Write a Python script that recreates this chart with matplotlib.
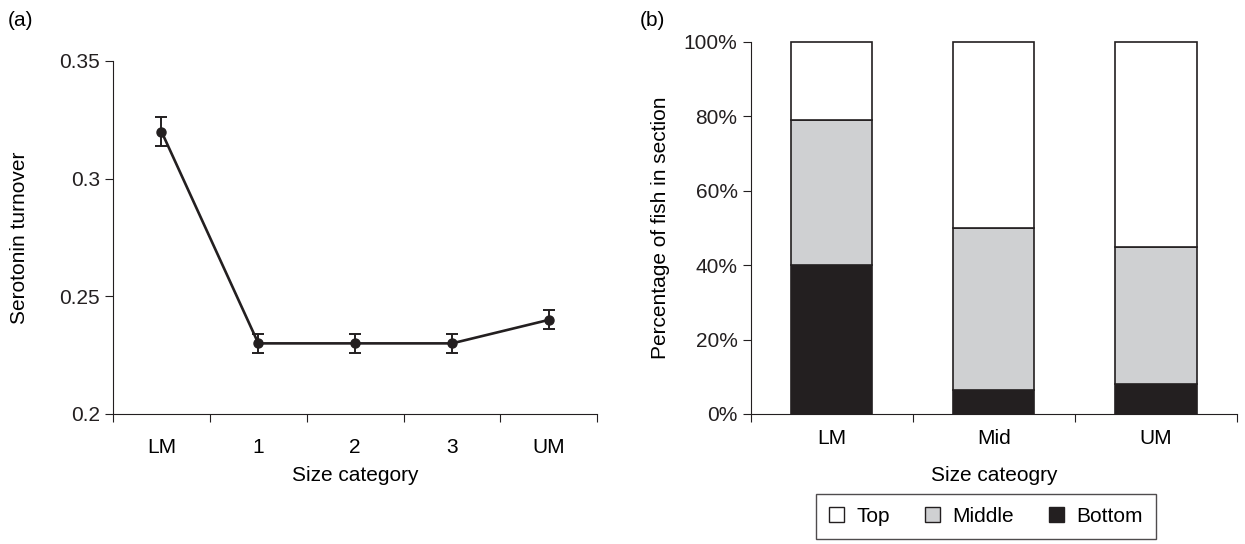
import matplotlib.pyplot as plt
from matplotlib.patches import Patch
from matplotlib.ticker import FixedLocator, PercentFormatter

plt.rcParams["font.family"] = ["Liberation Sans", "DejaVu Sans"]
plt.rcParams["font.size"] = 15

# =========== DATA ===========
size_categories = ["LM", "1", "2", "3", "UM"]
turnover = [0.32, 0.23, 0.23, 0.23, 0.24]
turnover_err = [0.006, 0.004, 0.004, 0.004, 0.004]

groups = ["LM", "Mid", "UM"]
bottom_pct = [40, 6.5, 8]
middle_pct = [39, 43.5, 37]
top_pct = [21, 50, 55]

ink = "#231f20"
grey = "#cfd0d2"

fig = plt.figure(figsize=(12.45, 5.44), dpi=100)

# =========== PANEL (a) ===========
ax1 = fig.add_axes([0.0908, 0.239, 0.389, 0.649])
xa = [i + 0.5 for i in range(len(size_categories))]
ax1.errorbar(xa, turnover, yerr=turnover_err, color=ink, lw=1.9, marker="o",
             ms=6.5, capsize=4, capthick=1.4, elinewidth=1.4)
ax1.set_xlim(0, len(size_categories))
ax1.set_ylim(0.2, 0.35)
ax1.set_yticks([0.2, 0.25, 0.3, 0.35])
ax1.set_yticklabels(["0.2", "0.25", "0.3", "0.35"])
ax1.xaxis.set_major_locator(FixedLocator(range(len(size_categories) + 1)))
ax1.xaxis.set_major_formatter(plt.NullFormatter())
ax1.xaxis.set_minor_locator(FixedLocator(xa))
ax1.set_xticklabels(size_categories, minor=True)
ax1.tick_params(axis="x", which="minor", length=0, pad=17)
ax1.set_xlabel("Size category", labelpad=7)
ax1.set_ylabel("Serotonin turnover", labelpad=22)

# =========== PANEL (b) ===========
ax2 = fig.add_axes([0.603, 0.239, 0.3906, 0.684])
xb = [i + 0.5 for i in range(len(groups))]
mid_base = bottom_pct
top_base = [b + m for b, m in zip(bottom_pct, middle_pct)]
ax2.bar(xb, bottom_pct, width=0.5, color=ink, edgecolor=ink, lw=1.2)
ax2.bar(xb, middle_pct, width=0.5, bottom=mid_base, color=grey, edgecolor=ink, lw=1.2)
ax2.bar(xb, top_pct, width=0.5, bottom=top_base, color="white", edgecolor=ink,
        lw=1.2, clip_on=False)
ax2.set_xlim(0, len(groups))
ax2.set_ylim(0, 100)
ax2.set_yticks(range(0, 101, 20))
ax2.yaxis.set_major_formatter(PercentFormatter(decimals=0))
ax2.xaxis.set_major_locator(FixedLocator(range(len(groups) + 1)))
ax2.xaxis.set_major_formatter(plt.NullFormatter())
ax2.xaxis.set_minor_locator(FixedLocator(xb))
ax2.set_xticklabels(groups, minor=True)
ax2.tick_params(axis="x", which="minor", length=0, pad=11)
ax2.set_xlabel("Size cateogry", labelpad=13)
ax2.set_ylabel("Percentage of fish in section", labelpad=10)

handles = [
    Patch(facecolor="white", edgecolor=ink, label="Top"),
    Patch(facecolor=grey, edgecolor=ink, label="Middle"),
    Patch(facecolor=ink, edgecolor=ink, label="Bottom"),
]
leg = fig.legend(handles=handles, loc="upper center", ncol=3,
                 bbox_to_anchor=(986 / 1245, 1 - 494 / 544), borderaxespad=0,
                 fancybox=False, edgecolor=ink, handlelength=0.7,
                 handleheight=0.7, columnspacing=1.7, handletextpad=0.6,
                 borderpad=0.62)
leg.get_frame().set_linewidth(1.0)

for ax in (ax1, ax2):
    for side in ("top", "right"):
        ax.spines[side].set_visible(False)
    for side in ("left", "bottom"):
        ax.spines[side].set_color(ink)
    ax.tick_params(which="major", color=ink, length=6, labelcolor=ink)

fig.text(8 / 1245, 1 - 20 / 544, "(a)", fontsize=15, va="center")
fig.text(640 / 1245, 1 - 20 / 544, "(b)", fontsize=15, va="center")

fig.savefig("out.png", dpi=100)
